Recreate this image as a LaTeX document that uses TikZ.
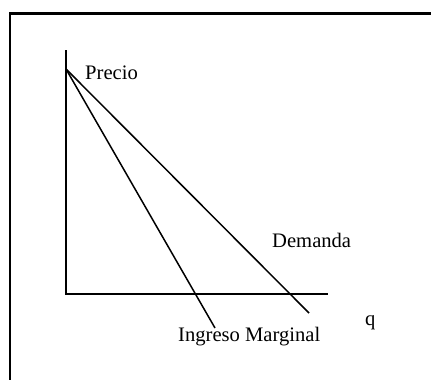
\documentclass[tikz,border=0pt]{standalone}
\usepackage{fontspec}
\setmainfont{Liberation Serif}
\usetikzlibrary{positioning}
\definecolor{Ink}{HTML}{000000}
\tikzset{
  frame/.style={draw=Ink, line width=2.2pt},
  axis/.style={draw=Ink, line width=1.9pt},
  curve/.style={draw=Ink, line width=1.5pt},
  tag/.style={inner sep=0pt, anchor=base west, font=\fontsize{20.6}{24}\selectfont}
}
\begin{document}
\begin{tikzpicture}[x=1pt,y=-1pt]
    \useasboundingbox (0,0) rectangle (431,380);
    \clip (0,0) rectangle (431,380);
    \draw[frame] (10,13.5) rectangle (445,395);
    % axes
    \coordinate (top) at (66,50);
    \coordinate (origin) at (66,294);
    \coordinate (qend) at (328,294);
    \coordinate (pmax) at (66,69);
    \coordinate (dend) at (309,313);
    \coordinate (mrend) at (215,328);
    \draw[axis] (top)--(origin)--(qend);
    \draw[curve] (pmax)--(dend);
    \draw[curve] (pmax)--(mrend);
    % labels
    \node[tag] (precio) at (85,79) {Precio};
    \node[tag] (demanda) at (272,247) {Demanda};
    \node[tag] (q) at (365,325) {q};
    \node[tag] (ingreso) at (178,341) {Ingreso Marginal};
\end{tikzpicture}
\end{document}
